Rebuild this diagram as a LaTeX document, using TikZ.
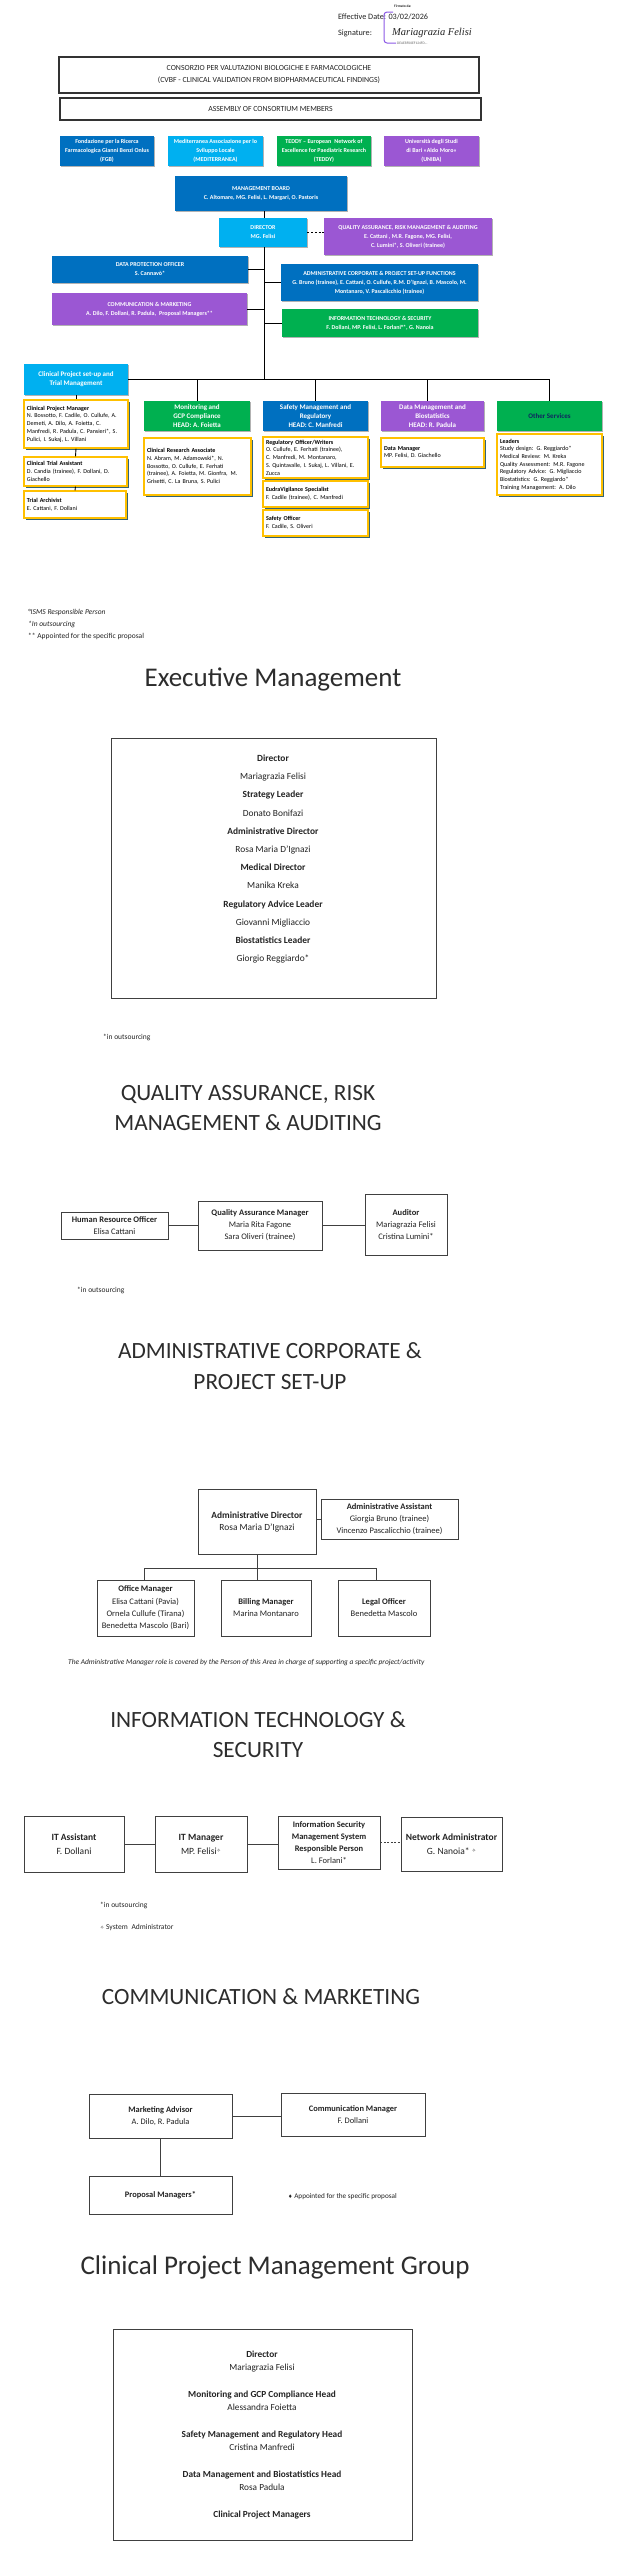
\documentclass[tikz,border=0pt]{standalone}
\usepackage{fontspec}
\setmainfont{Carlito}
\newfontfamily\djv{DejaVu Sans}
\newfontfamily\sigf{Liberation Serif}
\usetikzlibrary{shadows}
\definecolor{dblue}{RGB}{0,112,192}
\definecolor{lblue}{RGB}{0,176,240}
\definecolor{dgreen}{RGB}{0,176,80}
\definecolor{purp}{RGB}{155,87,211}
\definecolor{ybord}{RGB}{255,192,0}
\definecolor{tshadow}{RGB}{50,100,120}
\definecolor{navy}{RGB}{16,36,96}
\definecolor{txt}{RGB}{35,35,35}
\definecolor{ttl}{RGB}{45,45,45}
\definecolor{sigpurple}{RGB}{140,90,230}
\newcommand{\myfs}[2]{\fontsize{#1}{#2}\selectfont}
\newcommand{\starsym}{{\djv\myfs{5}{6}\raisebox{1.8pt}{✧}}}
\begin{document}
\begin{tikzpicture}[x=1pt,y=-1pt,
  cbox/.style={rectangle, inner sep=0pt, text=white, align=center, font=\bfseries\myfs{6}{9},
     drop shadow={shadow xshift=1.2pt, shadow yshift=-1.2pt, opacity=0.3, fill=black}},
  hbox/.style={cbox, font=\bfseries\myfs{7}{8.8}},
  ybox/.style={rectangle, draw=ybord, line width=1.1pt, fill=white, inner sep=0pt, align=left, text=black, font=\myfs{6.05}{7.7},
     drop shadow={shadow xshift=1.6pt, shadow yshift=-1.8pt, fill=tshadow, opacity=1}},
  wbox/.style={rectangle, draw=black!75, line width=0.9pt, fill=white, inner sep=0pt, align=center, text=txt},
  conn/.style={draw=black, line width=0.9pt},
  wconn/.style={draw=black!75, line width=0.9pt},
  ttlA/.style={inner sep=0pt, anchor=base, text=ttl, font=\myfs{23.3}{28}},
  ttlB/.style={inner sep=0pt, anchor=base, text=ttl, font=\myfs{27}{32}},
  note/.style={inner sep=0pt, anchor=base west, text=txt},
]
\fill[white] (0,0) rectangle (623,2560);
\useasboundingbox (0,0) rectangle (623,2560);

% ---------- header ----------
\node[note, font=\myfs{8.2}{10}] (eff) at (338,19) {Effective Date: 03/02/2026};
\node[note, font=\myfs{8.2}{10}] (sigl) at (338,35) {Signature:};
\draw[sigpurple, line width=1pt, rounded corners=3pt] (393,12) -- (384,12) -- (384,43) -- (396,43);
\node[note, font=\bfseries\myfs{3.6}{4}] (firm) at (394,7) {Firmato da:};
\node[note, font=\sigf\itshape\myfs{10.5}{12}] (sname) at (392,35) {Mariagrazia Felisi};
\node[note, font=\myfs{3.6}{4}, text=black!60] (hash) at (397,44.5) {DEAE8F00EF124FD...};

\node[wbox, draw=black!80, line width=1.3pt, minimum width=420, minimum height=36, font=\myfs{7.8}{12}] (cons) at (269,75)
  {CONSORZIO PER VALUTAZIONI BIOLOGICHE E FARMACOLOGICHE\\(CVBF - CLINICAL VALIDATION FROM BIOPHARMACEUTICAL FINDINGS)};
\node[wbox, draw=black!80, line width=1.3pt, minimum width=421, minimum height=22, font=\myfs{7.8}{10}] (asm) at (270.5,109)
  {ASSEMBLY OF CONSORTIUM MEMBERS};

\node[cbox, fill=dblue, minimum width=94, minimum height=30] (fgb) at (107,151) {Fondazione per la Ricerca\\Farmacologica Gianni Benzi Onlus\\(FGB)};
\node[cbox, fill=lblue, minimum width=95, minimum height=30] (med) at (215.5,151) {Mediterranea Associazione per lo\\Sviluppo Locale\\(MEDITERRANEA)};
\node[cbox, fill=dgreen, minimum width=94, minimum height=30] (teddy) at (324,151) {TEDDY – European\enspace Network of\\Excellence for Paediatric Research\\(TEDDY)};
\node[cbox, fill=purp, minimum width=95, minimum height=30] (uniba) at (431.5,151) {Università degli Studi\\di Bari «Aldo Moro»\\(UNIBA)};

\node[cbox, fill=dblue, minimum width=172, minimum height=35] (mb) at (261,193.5) {MANAGEMENT BOARD\\C. Altomare, MG. Felisi, L. Margari, O. Pastoris};
\node[cbox, fill=lblue, minimum width=88, minimum height=29] (dir) at (263,232.5) {DIRECTOR\\MG. Felisi};
\node[cbox, fill=purp, minimum width=168, minimum height=37] (qa) at (408,236.5) {QUALITY ASSURANCE, RISK MANAGEMENT \& AUDITING\\E. Cattani , M.R. Fagone, MG. Felisi,\\C. Lumini*, S. Oliveri (trainee)};
\node[cbox, fill=dblue, minimum width=196, minimum height=27] (dpo) at (150,269.5) {DATA PROTECTION OFFICER\\S. Cannavò*};
\node[cbox, fill=dblue, minimum width=197, minimum height=37] (adm) at (379.5,282.5) {ADMINISTRATIVE CORPORATE \& PROJECT SET-UP FUNCTIONS\\G. Bruno (trainee), E. Cattani, O. Cullufe, R.M. D’Ignazi, B. Mascolo, M.\\Montanaro, V. Pascalicchio (trainee)};
\node[cbox, fill=purp, minimum width=195, minimum height=32] (com) at (149.5,309) {COMMUNICATION \& MARKETING\\A. Dilo, F. Dollani, R. Padula,\enspace Proposal Managers**};
\node[cbox, fill=dgreen, minimum width=196, minimum height=28] (it) at (380,323) {INFORMATION TECHNOLOGY \& SECURITY\\F. Dollani, MP. Felisi, L. Forlani°*, G. Nanoia};

\node[hbox, fill=lblue, minimum width=104, minimum height=31] (cph) at (76,379.5) {Clinical Project set-up and\\Trial Management};
\node[hbox, fill=dgreen, minimum width=106, minimum height=30] (mon) at (197,416) {Monitoring and\\GCP Compliance\\HEAD: A. Foietta};
\node[hbox, fill=dblue, minimum width=105, minimum height=30] (saf) at (315.5,416) {Safety Management and\\Regulatory\\HEAD: C. Manfredi};
\node[hbox, fill=purp, minimum width=103, minimum height=30] (dat) at (432.5,416) {Data Management and\\Biostatistics\\HEAD: R. Padula};
\node[hbox, fill=dgreen, text=navy, minimum width=105, minimum height=30] (oth) at (549.5,416) {Other Services};

\node[ybox, minimum width=104, minimum height=48, text width=98] (cpm) at (76,424) {\textbf{Clinical Project Manager}\\N. Bossotto, F. Cadile, O. Cullufe, A.\\Demeti, A. Dilo, A. Foietta, C.\\Manfredi, R. Padula, C. Pansieri*, S.\\Pulici, I. Sukaj, L. Villani};
\node[ybox, minimum width=103, minimum height=29, text width=97] (cta) at (75.5,471.5) {\textbf{Clinical Trial Assistant}\\D. Candia (trainee), F. Dollani, D.\\Giachello};
\node[ybox, minimum width=102, minimum height=27, text width=96] (ta) at (75,504.5) {\textbf{Trial Archivist}\\E. Cattani, F. Dollani};
\node[ybox, minimum width=107, minimum height=57, text width=101] (cra) at (197.5,466.5) {\textbf{Clinical Research Associate}\\N. Abram, M. Adamowski*, N.\\Bossotto, O. Cullufe, E. Ferhati\\(trainee), A. Foietta, M. Gionfra,\enspace M.\\Grisetti, C. La Bruna, S. Pulici};
\node[ybox, minimum width=105, minimum height=41, text width=99] (reg) at (315.5,457.5) {\textbf{Regulatory Officer/Writers}\\O. Cullufe, E. Ferhati (trainee),\\C. Manfredi, M. Montanaro,\\S. Quintavalle, I. Sukaj, L. Villani, E.\\Zucca};
\node[ybox, minimum width=105, minimum height=26, text width=99] (eud) at (315.5,494) {\textbf{EudraVigilance Specialist}\\F. Cadile (trainee), C. Manfredi};
\node[ybox, minimum width=105, minimum height=26, text width=99] (so) at (315.5,523) {\textbf{Safety Officer}\\F. Cadile, S. Oliveri};
\node[ybox, minimum width=103, minimum height=29, text width=97] (dm) at (432.5,452.5) {\textbf{Data Manager}\\MP. Felisi, D. Giachello};
\node[ybox, minimum width=105, minimum height=61, text width=99] (lead) at (549.5,464.5) {\textbf{Leaders}\\Study design: G. Reggiardo*\\Medical Review: M. Kreka\\Quality Assessment: M.R. Fagone\\Regulatory Advice: G. Migliaccio\\Biostatistics: G. Reggiardo*\\Training Management: A. Dilo};

\coordinate (tx) at (264,0);
\coordinate (dd) at (427,0);
\draw[conn] (mb.south -| tx) -- (dir.north -| tx);
\draw[conn] (dir.south -| tx) -- (cph.east -| tx);
\draw[conn, dash pattern=on 2.2pt off 1.6pt, line width=1pt] (dir.east) -- (dir.east -| qa.west);
\draw[conn] (dpo.east) -- (dpo.east -| tx);
\draw[conn] (adm.west) -- (adm.west -| tx);
\draw[conn] (com.east) -- (com.east -| tx);
\draw[conn] (it.west) -- (it.west -| tx);
\draw[conn] (cph.east) -- (cph.east -| oth.north) -- (oth.north);
\draw[conn] (cph.east -| mon.north) -- (mon.north);
\draw[conn] (cph.east -| saf.north) -- (saf.north);
\draw[conn] (cph.east -| dd) -- (dat.north -| dd);
\draw[conn] (cph.south) -- (cpm.north);
\draw[conn] (cpm.south) -- (cta.north);
\draw[conn] (cta.south) -- (ta.north);

\node[note, font=\itshape\myfs{7.5}{12}] (n1) at (28,614) {°ISMS Responsible Person};
\node[note, font=\itshape\myfs{7.5}{12}] (n2) at (28,626) {*In outsourcing};
\node[note, font=\myfs{7.5}{12}] (n3) at (28,638) {** Appointed for the specific proposal};

% ---------- Executive Management ----------
\node[ttlB] (t1) at (273,686) {Executive Management};
\node[wbox, minimum width=325, minimum height=260] (exb) at (273.5,868) {};
\node[inner sep=0pt, align=center, text=txt, font=\myfs{9.4}{18.2}] (ext) at (273,859)
  {\textbf{Director}\\Mariagrazia Felisi\\\textbf{Strategy Leader}\\Donato Bonifazi\\\textbf{Administrative Director}\\Rosa Maria D’Ignazi\\\textbf{Medical Director}\\Manika Kreka\\\textbf{Regulatory Advice Leader}\\Giovanni Migliaccio\\\textbf{Biostatistics Leader}\\Giorgio Reggiardo*};
\node[note, font=\myfs{7.5}{9}] (exn) at (103,1039) {*in outsourcing};

% ---------- QA ----------
\node[ttlA] (q1) at (248,1100) {QUALITY ASSURANCE, RISK};
\node[ttlA] (q2) at (248,1130) {MANAGEMENT \& AUDITING};
\node[wbox, minimum width=107, minimum height=27, font=\myfs{8.5}{12}] (hro) at (114.5,1225.5) {\textbf{Human Resource Officer}\\Elisa Cattani};
\node[wbox, minimum width=124, minimum height=49, font=\myfs{8.5}{12}] (qam) at (260,1225.5) {\textbf{Quality Assurance Manager}\\Maria Rita Fagone\\Sara Oliveri (trainee)};
\node[wbox, minimum width=82, minimum height=61, font=\myfs{8.5}{12}] (aud) at (406,1224.5) {\textbf{Auditor}\\Mariagrazia Felisi\\Cristina Lumini*};
\draw[wconn] (hro.east) -- (qam.west);
\draw[wconn] (qam.east) -- (qam.east -| aud.west);
\node[note, font=\myfs{7.5}{9}] (qan) at (77,1292) {*in outsourcing};

% ---------- Administrative ----------
\node[ttlA] (a1) at (270,1358) {ADMINISTRATIVE CORPORATE \&};
\node[ttlA] (a2) at (270,1389) {PROJECT SET-UP};
\node[wbox, minimum width=118, minimum height=65, font=\myfs{9.4}{12}] (ad) at (257,1521.5) {\textbf{Administrative Director}\\Rosa Maria D’Ignazi};
\node[wbox, minimum width=137, minimum height=40, font=\myfs{8.5}{12}] (aa) at (389.5,1519) {\textbf{Administrative Assistant}\\Giorgia Bruno (trainee)\\Vincenzo Pascalicchio (trainee)};
\node[wbox, minimum width=97, minimum height=56, font=\myfs{8.5}{12.3}] (om) at (145.5,1608) {\textbf{Office Manager}\\Elisa Cattani (Pavia)\\Ornela Cullufe (Tirana)\\Benedetta Mascolo (Bari)};
\node[wbox, minimum width=90, minimum height=56, font=\myfs{8.5}{12}] (bm) at (266,1608) {\textbf{Billing Manager}\\Marina Montanaro};
\node[wbox, minimum width=92, minimum height=56, font=\myfs{8.5}{12}] (lo) at (384,1608) {\textbf{Legal Officer}\\Benedetta Mascolo};
\coordinate (ab1) at (144,1568);
\coordinate (ab3) at (376,1568);
\draw[wconn] (aa.west -| ad.east) -- (aa.west);
\draw[wconn] (ad.south) -- (ad.south |- bm.north);
\draw[wconn] (ab1) -- (ab3);
\draw[wconn] (ab1) -- (ab1 |- om.north);
\draw[wconn] (ab3) -- (ab3 |- lo.north);
\node[note, font=\itshape\myfs{7.4}{9}] (adn) at (68,1664) {The Administrative Manager role is covered by the Person of this Area in charge of supporting a specific project/activity};

% ---------- IT ----------
\node[ttlA] (i1) at (258,1727) {INFORMATION TECHNOLOGY \&};
\node[ttlA] (i2) at (258,1757) {SECURITY};
\node[wbox, minimum width=100, minimum height=56, font=\myfs{9.5}{14}] (ita) at (74,1844) {\textbf{IT Assistant}\\F. Dollani};
\node[wbox, minimum width=92, minimum height=56, font=\myfs{9.5}{14}] (itm) at (201,1844) {\textbf{IT Manager}\\MP. Felisi\starsym};
\node[wbox, minimum width=102, minimum height=53, font=\myfs{8.5}{12.3}] (isms) at (329,1842.5) {\textbf{Information Security}\\\textbf{Management System}\\\textbf{Responsible Person}\\L. Forlani*};
\node[wbox, minimum width=101, minimum height=54, font=\myfs{9.5}{14}] (na) at (451.5,1844) {\textbf{Network Administrator}\\G. Nanoia* \starsym};
\draw[wconn] (ita.east) -- (itm.west);
\draw[wconn] (itm.east) -- (itm.east -| isms.west);
\draw[wconn, dash pattern=on 2pt off 1.5pt] (isms.east) -- (isms.east -| na.west);
\node[note, font=\myfs{7.5}{9}] (itn1) at (100,1907) {*in outsourcing};
\node[note, font=\myfs{7.5}{9}] (itn2) at (100,1929) {{\djv\myfs{5}{6}✧} System\enspace Administrator};

% ---------- Communication ----------
\node[ttlA] (c1) at (261,2004) {COMMUNICATION \& MARKETING};
\node[wbox, minimum width=143, minimum height=44, font=\myfs{8.4}{12}] (ma) at (160.5,2116) {\textbf{Marketing Advisor}\\A. Dilo, R. Padula};
\node[wbox, minimum width=144, minimum height=43, font=\myfs{8.4}{12}] (cmg) at (353,2114.5) {\textbf{Communication Manager}\\F. Dollani};
\node[wbox, minimum width=143, minimum height=38, font=\myfs{8.4}{12}] (pm) at (160.5,2195) {\textbf{Proposal Managers*}};
\draw[wconn] (ma.east) -- (ma.east -| cmg.west);
\draw[wconn] (ma.south) -- (pm.north);
\node[note, font=\myfs{7.2}{9}] (cmn) at (288,2198) {{\djv\myfs{5}{6}♦} Appointed for the specific proposal};

% ---------- Clinical Project Management Group ----------
\node[ttlB] (g1) at (275,2274) {Clinical Project Management Group};
\node[wbox, minimum width=299, minimum height=211] (gb) at (262.5,2434.5) {};
\node[inner sep=0pt, align=center, text=txt, font=\myfs{9.3}{13.6}] (gt) at (262,2434.5)
  {\textbf{Director}\\Mariagrazia Felisi\\[12.8pt]\textbf{Monitoring and GCP Compliance Head}\\Alessandra Foietta\\[12.8pt]\textbf{Safety Management and Regulatory Head}\\Cristina Manfredi\\[12.8pt]\textbf{Data Management and Biostatistics Head}\\Rosa Padula\\[12.8pt]\textbf{Clinical Project Managers}};
\end{tikzpicture}
\end{document}
